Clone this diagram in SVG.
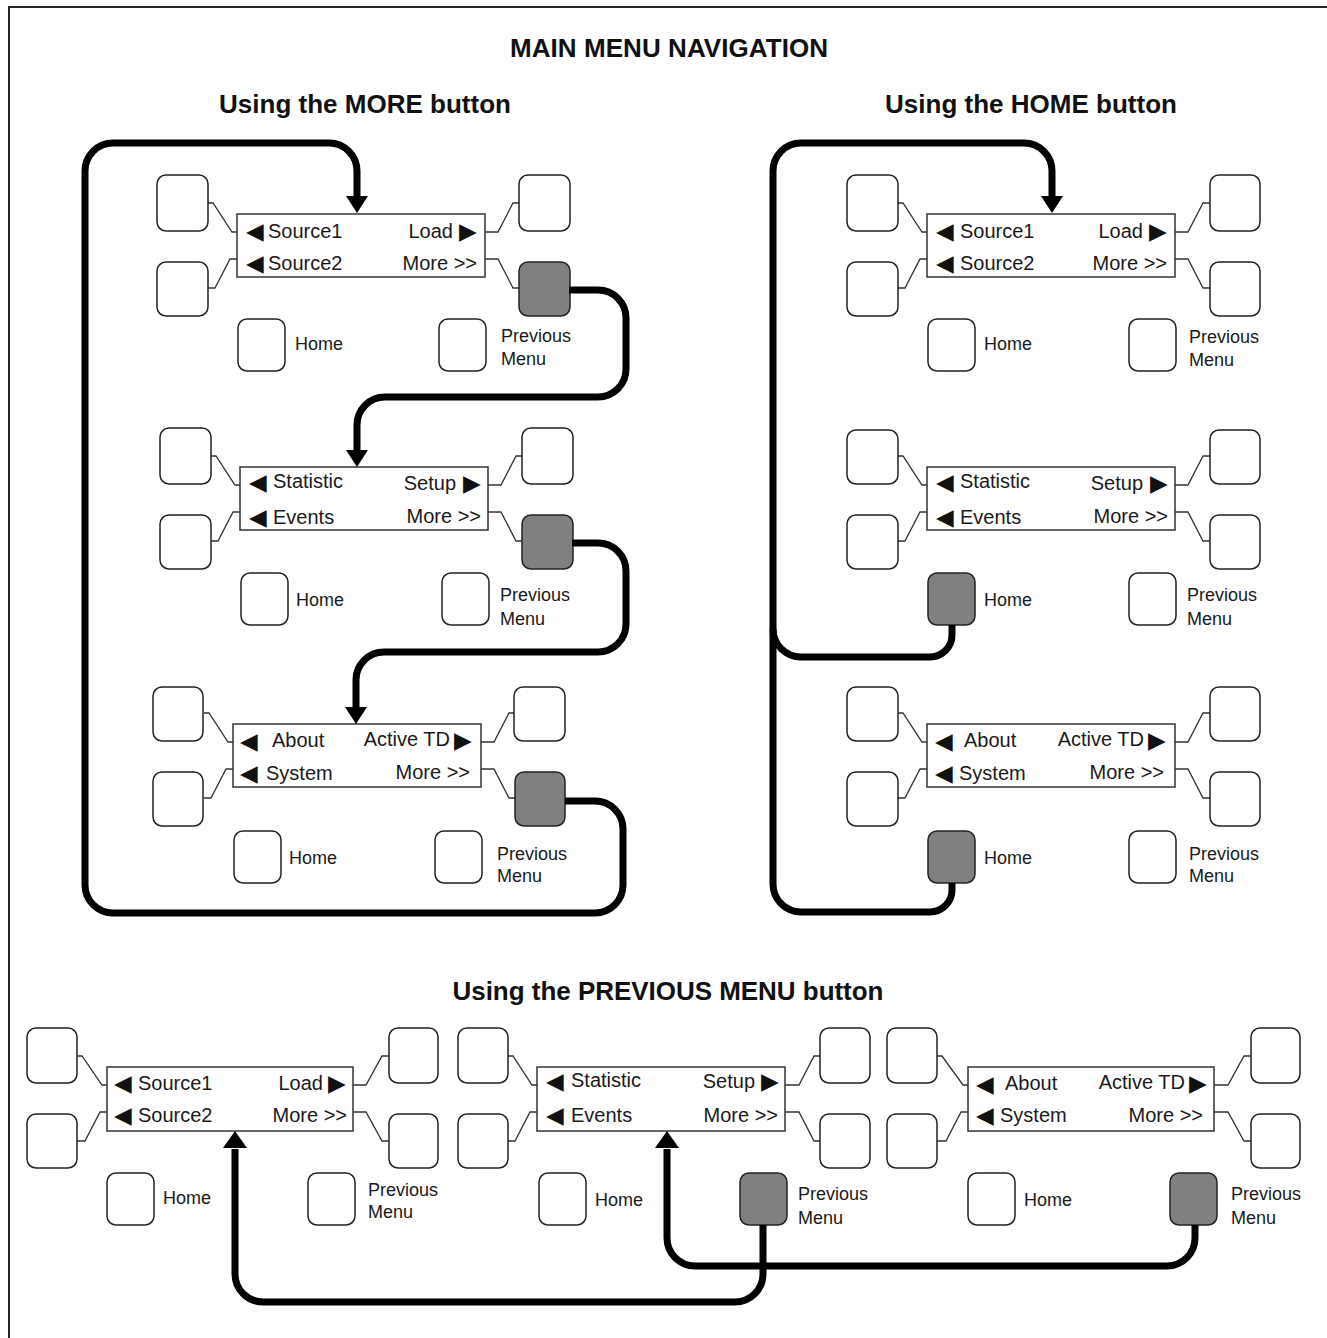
<svg xmlns="http://www.w3.org/2000/svg" width="1327" height="1338" viewBox="0 0 1327 1338">
<style>
  .bg{fill:#ffffff}
  .border{stroke:#222;stroke-width:2;fill:none}
  .title{font-family:"Liberation Sans",Arial,sans-serif;font-weight:bold;font-size:26px;fill:#111;text-anchor:middle}
  .btn{fill:#ffffff;stroke:#222;stroke-width:1.5}
  .on{fill:#808080}
  .disp{fill:#ffffff;stroke:#333;stroke-width:1.5}
  .wire{fill:none;stroke:#333;stroke-width:1.3}
  .m{font-family:"Liberation Sans",Arial,sans-serif;font-size:20px;fill:#1a1a1a}
  .r{text-anchor:end}
  .tri{font-family:"DejaVu Sans",sans-serif;font-size:23px;fill:#111}
  .lbl{font-family:"Liberation Sans",Arial,sans-serif;font-size:18px;fill:#1a1a1a}
  .conn{fill:none;stroke:#000;stroke-width:7}
  .head{fill:#000}
</style>
<rect class="bg" x="0" y="0" width="1327" height="1338"/>
<path class="border" d="M9 1338 V7 H1327"/>

<g id="titles">
  <text class="title" x="669" y="57" textLength="318">MAIN MENU NAVIGATION</text>
  <text class="title" x="365" y="113" textLength="292">Using the MORE button</text>
  <text class="title" x="1031" y="113" textLength="292">Using the HOME button</text>
  <text class="title" x="668" y="1000" textLength="431">Using the PREVIOUS MENU button</text>
</g>

<!-- Panel 1 -->
<g id="panel-more-1" transform="translate(237,214)">
  <polyline class="wire" points="-29,-11 -24,-11 -5,18 0,18"/>
  <polyline class="wire" points="0,45 -7,45 -22,74 -29,74"/>
  <polyline class="wire" points="248,18 261,18 276,-11 282,-11"/>
  <polyline class="wire" points="248,45 261,45 276,74 282,74"/>
  <rect class="btn" x="-80" y="-39" width="51" height="56" rx="9"/>
  <rect class="btn" x="-80" y="48" width="51" height="54" rx="9"/>
  <rect class="btn" x="282" y="-39" width="51" height="56" rx="9"/>
  <rect class="btn on" x="282" y="48" width="51" height="54" rx="9"/>
  <rect class="btn" x="1" y="105" width="47" height="52" rx="9"/>
  <rect class="btn" x="202" y="105" width="47" height="52" rx="9"/>
  <rect class="disp" x="0" y="0" width="248" height="63"/>
  <text class="m" x="9" y="25"><tspan class="tri">◀</tspan><tspan x="31" y="24">Source1</tspan></text>
  <text class="m r" x="216" y="24">Load</text>
  <text class="tri" x="222" y="25">▶</text>
  <text class="m" x="9" y="57"><tspan class="tri">◀</tspan><tspan x="31" y="56">Source2</tspan></text>
  <text class="m r" x="240" y="56">More &gt;&gt;</text>
  <text class="lbl" x="58" y="136">Home</text>
  <text class="lbl" x="264" y="128">Previous</text>
  <text class="lbl" x="264" y="151">Menu</text>
</g>

<!-- Panel 2 -->
<g id="panel-more-2" transform="translate(240,467)">
  <polyline class="wire" points="-29,-11 -24,-11 -5,18 0,18"/>
  <polyline class="wire" points="0,45 -7,45 -22,74 -29,74"/>
  <polyline class="wire" points="248,18 261,18 276,-11 282,-11"/>
  <polyline class="wire" points="248,45 261,45 276,74 282,74"/>
  <rect class="btn" x="-80" y="-39" width="51" height="56" rx="9"/>
  <rect class="btn" x="-80" y="48" width="51" height="54" rx="9"/>
  <rect class="btn" x="282" y="-39" width="51" height="56" rx="9"/>
  <rect class="btn on" x="282" y="48" width="51" height="54" rx="9"/>
  <rect class="btn" x="1" y="106" width="47" height="52" rx="9"/>
  <rect class="btn" x="202" y="106" width="47" height="52" rx="9"/>
  <rect class="disp" x="0" y="0" width="248" height="63"/>
  <text class="m" x="9" y="23"><tspan class="tri">◀</tspan><tspan x="33" y="21">Statistic</tspan></text>
  <text class="m r" x="216" y="23">Setup</text>
  <text class="tri" x="223" y="24">▶</text>
  <text class="m" x="9" y="58"><tspan class="tri">◀</tspan><tspan x="33" y="57">Events</tspan></text>
  <text class="m r" x="241" y="56">More &gt;&gt;</text>
  <text class="lbl" x="56" y="139">Home</text>
  <text class="lbl" x="260" y="134">Previous</text>
  <text class="lbl" x="260" y="158">Menu</text>
</g>

<!-- Panel 3 -->
<g id="panel-more-3" transform="translate(233,724)">
  <polyline class="wire" points="-29,-11 -24,-11 -5,18 0,18"/>
  <polyline class="wire" points="0,45 -7,45 -22,74 -29,74"/>
  <polyline class="wire" points="248,18 261,18 276,-11 282,-11"/>
  <polyline class="wire" points="248,45 261,45 276,74 282,74"/>
  <rect class="btn" x="-80" y="-37" width="50" height="54" rx="9"/>
  <rect class="btn" x="-80" y="48" width="50" height="54" rx="9"/>
  <rect class="btn" x="281" y="-37" width="51" height="54" rx="9"/>
  <rect class="btn on" x="282" y="48" width="50" height="54" rx="9"/>
  <rect class="btn" x="1" y="107" width="47" height="52" rx="9"/>
  <rect class="btn" x="202" y="107" width="47" height="52" rx="9"/>
  <rect class="disp" x="0" y="0" width="248" height="63"/>
  <text class="m" x="7" y="25"><tspan class="tri">◀</tspan><tspan x="39" y="23">About</tspan></text>
  <text class="m r" x="217" y="22">Active TD</text>
  <text class="tri" x="221" y="24">▶</text>
  <text class="m" x="7" y="57"><tspan class="tri">◀</tspan><tspan x="33" y="56">System</tspan></text>
  <text class="m r" x="237" y="55">More &gt;&gt;</text>
  <text class="lbl" x="56" y="140">Home</text>
  <text class="lbl" x="264" y="136">Previous</text>
  <text class="lbl" x="264" y="158">Menu</text>
</g>

<!-- Panel 4 -->
<g id="panel-home-1" transform="translate(927,214)">
  <polyline class="wire" points="-29,-11 -24,-11 -5,18 0,18"/>
  <polyline class="wire" points="0,45 -7,45 -22,74 -29,74"/>
  <polyline class="wire" points="248,18 261,18 276,-11 283,-11"/>
  <polyline class="wire" points="248,45 261,45 276,74 283,74"/>
  <rect class="btn" x="-80" y="-39" width="51" height="56" rx="9"/>
  <rect class="btn" x="-80" y="48" width="51" height="54" rx="9"/>
  <rect class="btn" x="283" y="-39" width="50" height="56" rx="9"/>
  <rect class="btn" x="283" y="48" width="50" height="54" rx="9"/>
  <rect class="btn" x="1" y="105" width="47" height="52" rx="9"/>
  <rect class="btn" x="202" y="105" width="47" height="52" rx="9"/>
  <rect class="disp" x="0" y="0" width="248" height="63"/>
  <text class="m" x="9" y="25"><tspan class="tri">◀</tspan><tspan x="33" y="24">Source1</tspan></text>
  <text class="m r" x="216" y="24">Load</text>
  <text class="tri" x="222" y="25">▶</text>
  <text class="m" x="9" y="57"><tspan class="tri">◀</tspan><tspan x="33" y="56">Source2</tspan></text>
  <text class="m r" x="240" y="56">More &gt;&gt;</text>
  <text class="lbl" x="57" y="136">Home</text>
  <text class="lbl" x="262" y="129">Previous</text>
  <text class="lbl" x="262" y="152">Menu</text>
</g>

<!-- Panel 5 -->
<g id="panel-home-2" transform="translate(927,467)">
  <polyline class="wire" points="-29,-11 -24,-11 -5,18 0,18"/>
  <polyline class="wire" points="0,45 -7,45 -22,74 -29,74"/>
  <polyline class="wire" points="248,18 261,18 276,-11 283,-11"/>
  <polyline class="wire" points="248,45 261,45 276,74 283,74"/>
  <rect class="btn" x="-80" y="-37" width="51" height="54" rx="9"/>
  <rect class="btn" x="-80" y="48" width="51" height="54" rx="9"/>
  <rect class="btn" x="283" y="-37" width="50" height="54" rx="9"/>
  <rect class="btn" x="283" y="48" width="50" height="54" rx="9"/>
  <rect class="btn on" x="1" y="106" width="47" height="52" rx="9"/>
  <rect class="btn" x="202" y="106" width="47" height="52" rx="9"/>
  <rect class="disp" x="0" y="0" width="248" height="63"/>
  <text class="m" x="9" y="23"><tspan class="tri">◀</tspan><tspan x="33" y="21">Statistic</tspan></text>
  <text class="m r" x="216" y="23">Setup</text>
  <text class="tri" x="223" y="24">▶</text>
  <text class="m" x="9" y="58"><tspan class="tri">◀</tspan><tspan x="33" y="57">Events</tspan></text>
  <text class="m r" x="241" y="56">More &gt;&gt;</text>
  <text class="lbl" x="57" y="139">Home</text>
  <text class="lbl" x="260" y="134">Previous</text>
  <text class="lbl" x="260" y="158">Menu</text>
</g>

<!-- Panel 6 -->
<g id="panel-home-3" transform="translate(927,724)">
  <polyline class="wire" points="-29,-11 -24,-11 -5,18 0,18"/>
  <polyline class="wire" points="0,45 -7,45 -22,74 -29,74"/>
  <polyline class="wire" points="248,18 261,18 276,-11 283,-11"/>
  <polyline class="wire" points="248,45 261,45 276,74 283,74"/>
  <rect class="btn" x="-80" y="-37" width="51" height="54" rx="9"/>
  <rect class="btn" x="-80" y="48" width="51" height="54" rx="9"/>
  <rect class="btn" x="283" y="-37" width="50" height="54" rx="9"/>
  <rect class="btn" x="283" y="48" width="50" height="54" rx="9"/>
  <rect class="btn on" x="1" y="107" width="47" height="52" rx="9"/>
  <rect class="btn" x="202" y="107" width="47" height="52" rx="9"/>
  <rect class="disp" x="0" y="0" width="248" height="63"/>
  <text class="m" x="8" y="25"><tspan class="tri">◀</tspan><tspan x="37" y="23">About</tspan></text>
  <text class="m r" x="217" y="22">Active TD</text>
  <text class="tri" x="221" y="24">▶</text>
  <text class="m" x="8" y="57"><tspan class="tri">◀</tspan><tspan x="32" y="56">System</tspan></text>
  <text class="m r" x="237" y="55">More &gt;&gt;</text>
  <text class="lbl" x="57" y="140">Home</text>
  <text class="lbl" x="262" y="136">Previous</text>
  <text class="lbl" x="262" y="158">Menu</text>
</g>

<!-- Panel 7 -->
<g id="panel-prev-1" transform="translate(107,1067)">
  <polyline class="wire" points="-30,-11 -25,-11 -5,18 0,18"/>
  <polyline class="wire" points="0,45 -7,45 -22,74 -30,74"/>
  <polyline class="wire" points="246,18 259,18 275,-11 282,-11"/>
  <polyline class="wire" points="246,45 259,45 275,74 282,74"/>
  <rect class="btn" x="-80" y="-39" width="50" height="55" rx="9"/>
  <rect class="btn" x="-80" y="47" width="50" height="54" rx="9"/>
  <rect class="btn" x="282" y="-39" width="49" height="55" rx="9"/>
  <rect class="btn" x="282" y="47" width="49" height="54" rx="9"/>
  <rect class="btn" x="0" y="106" width="47" height="52" rx="9"/>
  <rect class="btn" x="201" y="106" width="47" height="52" rx="9"/>
  <rect class="disp" x="0" y="0" width="246" height="64"/>
  <text class="m" x="7" y="24"><tspan class="tri">◀</tspan><tspan x="31" y="23">Source1</tspan></text>
  <text class="m r" x="216" y="23">Load</text>
  <text class="tri" x="221" y="24">▶</text>
  <text class="m" x="7" y="56"><tspan class="tri">◀</tspan><tspan x="31" y="55">Source2</tspan></text>
  <text class="m r" x="240" y="55">More &gt;&gt;</text>
  <text class="lbl" x="56" y="137">Home</text>
  <text class="lbl" x="261" y="129">Previous</text>
  <text class="lbl" x="261" y="151">Menu</text>
</g>

<!-- Panel 8 -->
<g id="panel-prev-2" transform="translate(537,1067)">
  <polyline class="wire" points="-29,-11 -24,-11 -5,18 0,18"/>
  <polyline class="wire" points="0,45 -7,45 -22,74 -29,74"/>
  <polyline class="wire" points="248,18 262,18 277,-11 283,-11"/>
  <polyline class="wire" points="248,45 262,45 277,74 283,74"/>
  <rect class="btn" x="-79" y="-39" width="50" height="55" rx="9"/>
  <rect class="btn" x="-79" y="47" width="50" height="54" rx="9"/>
  <rect class="btn" x="283" y="-39" width="50" height="55" rx="9"/>
  <rect class="btn" x="283" y="47" width="50" height="54" rx="9"/>
  <rect class="btn" x="2" y="106" width="47" height="52" rx="9"/>
  <rect class="btn on" x="203" y="106" width="47" height="52" rx="9"/>
  <rect class="disp" x="0" y="0" width="248" height="64"/>
  <text class="m" x="9" y="22"><tspan class="tri">◀</tspan><tspan x="34" y="20">Statistic</tspan></text>
  <text class="m r" x="218" y="21">Setup</text>
  <text class="tri" x="224" y="22">▶</text>
  <text class="m" x="9" y="56"><tspan class="tri">◀</tspan><tspan x="34" y="55">Events</tspan></text>
  <text class="m r" x="241" y="55">More &gt;&gt;</text>
  <text class="lbl" x="58" y="139">Home</text>
  <text class="lbl" x="261" y="133">Previous</text>
  <text class="lbl" x="261" y="157">Menu</text>
</g>

<!-- Panel 9 -->
<g id="panel-prev-3" transform="translate(968,1067)">
  <polyline class="wire" points="-31,-11 -26,-11 -5,18 0,18"/>
  <polyline class="wire" points="0,45 -7,45 -22,74 -31,74"/>
  <polyline class="wire" points="246,18 260,18 276,-11 283,-11"/>
  <polyline class="wire" points="246,45 260,45 276,74 283,74"/>
  <rect class="btn" x="-81" y="-39" width="50" height="55" rx="9"/>
  <rect class="btn" x="-81" y="47" width="50" height="54" rx="9"/>
  <rect class="btn" x="283" y="-39" width="49" height="55" rx="9"/>
  <rect class="btn" x="283" y="47" width="49" height="54" rx="9"/>
  <rect class="btn" x="0" y="106" width="47" height="52" rx="9"/>
  <rect class="btn on" x="202" y="106" width="47" height="52" rx="9"/>
  <rect class="disp" x="0" y="0" width="246" height="64"/>
  <text class="m" x="8" y="25"><tspan class="tri">◀</tspan><tspan x="37" y="23">About</tspan></text>
  <text class="m r" x="217" y="22">Active TD</text>
  <text class="tri" x="221" y="24">▶</text>
  <text class="m" x="8" y="56"><tspan class="tri">◀</tspan><tspan x="32" y="55">System</tspan></text>
  <text class="m r" x="235" y="55">More &gt;&gt;</text>
  <text class="lbl" x="56" y="139">Home</text>
  <text class="lbl" x="263" y="133">Previous</text>
  <text class="lbl" x="263" y="157">Menu</text>
</g>

<g id="connectors">
  <path class="conn" d="M569 290 H598 A28 28 0 0 1 626 318 V369 A28 28 0 0 1 598 397 H385 A28 28 0 0 0 357 425 V451"/>
  <polygon class="head" points="346,450 368,450 357,467"/>
  <path class="conn" d="M572 543 H598 A28 28 0 0 1 626 571 V624 A28 28 0 0 1 598 652 H384 A28 28 0 0 0 356 680 V708"/>
  <polygon class="head" points="345,707 367,707 356,724"/>
  <path class="conn" d="M565 801 H595 A28 28 0 0 1 623 829 V885 A28 28 0 0 1 595 913 H113 A28 28 0 0 1 85 885 V171 A28 28 0 0 1 113 143 H329 A28 28 0 0 1 357 171 V197"/>
  <polygon class="head" points="346,196 368,196 357,213"/>
  <path class="conn" d="M952 883 V890 A22 22 0 0 1 930 912 H801 A28 28 0 0 1 773 884 V171 A28 28 0 0 1 801 143 H1024 A28 28 0 0 1 1052 171 V197"/>
  <polygon class="head" points="1041,196 1063,196 1052,213"/>
  <path class="conn" d="M952 625 V635 A22 22 0 0 1 930 657 H801 A28 28 0 0 1 773 629"/>
  <path class="conn" d="M763 1225 V1274 A28 28 0 0 1 735 1302 H263 A28 28 0 0 1 235 1274 V1149"/>
  <polygon class="head" points="223,1148 247,1148 235,1131"/>
  <path class="conn" d="M1195 1225 V1238 A28 28 0 0 1 1167 1266 H695 A28 28 0 0 1 667 1238 V1149"/>
  <polygon class="head" points="655,1148 679,1148 667,1131"/>
</g>
</svg>
